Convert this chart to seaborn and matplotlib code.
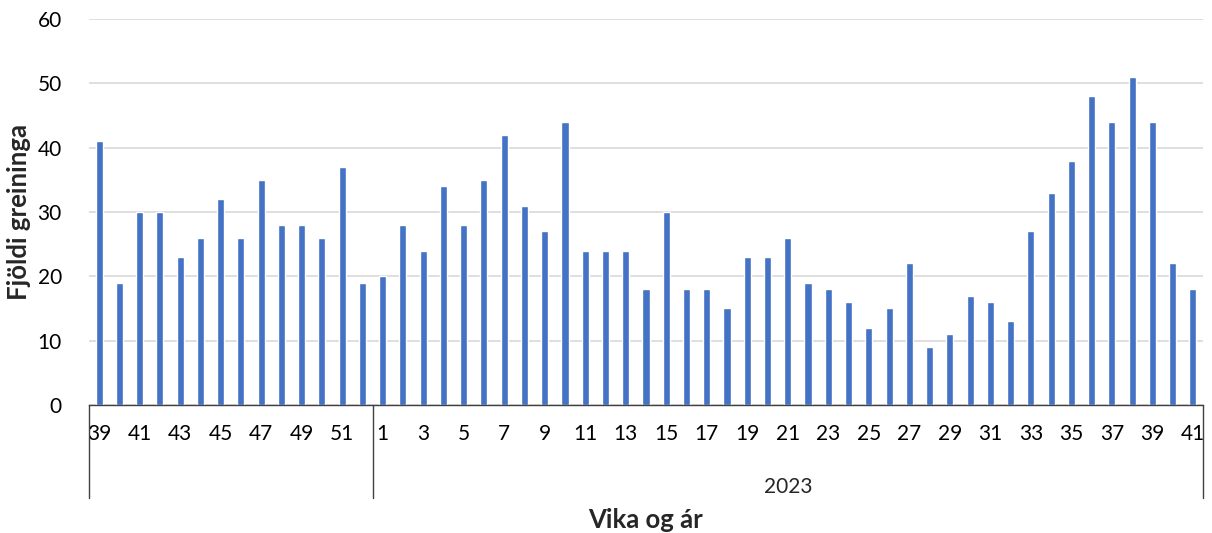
import matplotlib
matplotlib.use("Agg")
import matplotlib.pyplot as plt
import matplotlib.transforms as mtransforms
from matplotlib.patches import Rectangle
import seaborn as sns
import pandas as pd

# weekly counts, weeks 39-52 of 2022 then weeks 1-41 of 2023
weeks_2022 = list(range(39, 53))
counts_2022 = [41, 19, 30, 30, 23, 26, 32, 26, 35, 28, 28, 26, 37, 19]
weeks_2023 = list(range(1, 42))
counts_2023 = [20, 28, 24, 34, 28, 35, 42, 31, 27, 44, 24, 24, 24, 18, 30, 18, 18, 15, 23, 23,
               26, 19, 18, 16, 12, 15, 22, 9, 11, 17, 16, 13, 27, 33, 38, 48, 44, 51, 44, 22, 18]
year_labels = ["", "2023"]

df = pd.DataFrame({
    "year": [2022] * len(weeks_2022) + [2023] * len(weeks_2023),
    "week": weeks_2022 + weeks_2023,
    "count": counts_2022 + counts_2023,
})
df["key"] = df["year"].astype(str) + "-" + df["week"].astype(str)

sns.set_style("white")
plt.rcParams["font.family"] = ["Lato", "DejaVu Sans"]

fig = plt.figure(figsize=(12.12, 5.33), dpi=100)
ax = fig.add_axes([0.0734, 0.2402, 0.9192, 0.7242])

sns.barplot(data=df, x="key", y="count", order=list(df["key"]), color="#4472C4",
            width=0.35, saturation=1, ax=ax)

n = len(df)
ax.set_xlim(-0.5, n - 0.5)
ax.set_ylim(0, 60)
ax.set_yticks(range(0, 61, 10))
ax.yaxis.grid(True, color="#d9d9d9", linewidth=1.2)
ax.set_axisbelow(True)
for s in ["top", "right", "left"]:
    ax.spines[s].set_visible(False)
ax.spines["bottom"].set_color("#404040")
ax.spines["bottom"].set_linewidth(1.0)

ticks = list(range(0, n, 2))
ax.set_xticks(ticks)
ax.set_xticklabels([str(df["week"].iloc[i]) for i in ticks])
ax.tick_params(axis="both", length=0, labelsize=15, colors="black")
ax.tick_params(axis="x", pad=14)
ax.tick_params(axis="y", pad=19.5)

# first label is cut by the group line, like in the original
clip = Rectangle((0.0734, 0), 1, 1, transform=fig.transFigure)
ax.get_xticklabels()[0].set_clip_path(clip)

# group separators and year labels under the axis
trans = mtransforms.blended_transform_factory(ax.transData, ax.transAxes)
bounds = [-0.5, len(weeks_2022) - 0.5, n - 0.5]
for b in bounds:
    ax.plot([b, b], [0, -0.241], transform=trans, color="#404040", lw=1.0, clip_on=False)
for i, lab in enumerate(year_labels):
    mid = (bounds[i] + bounds[i + 1]) / 2
    ax.text(mid, -0.212, lab, transform=trans, ha="center", va="center", fontsize=15)

ax.set_xlabel("")
ax.set_ylabel("Fjöldi greininga", fontsize=18.5, fontweight="bold")
ax.yaxis.set_label_coords(-0.052, 0.5)
fig.text(0.533, 0.024, "Vika og ár", ha="center", va="center", fontsize=18.5, fontweight="bold")

fig.savefig("out.png", dpi=100)
